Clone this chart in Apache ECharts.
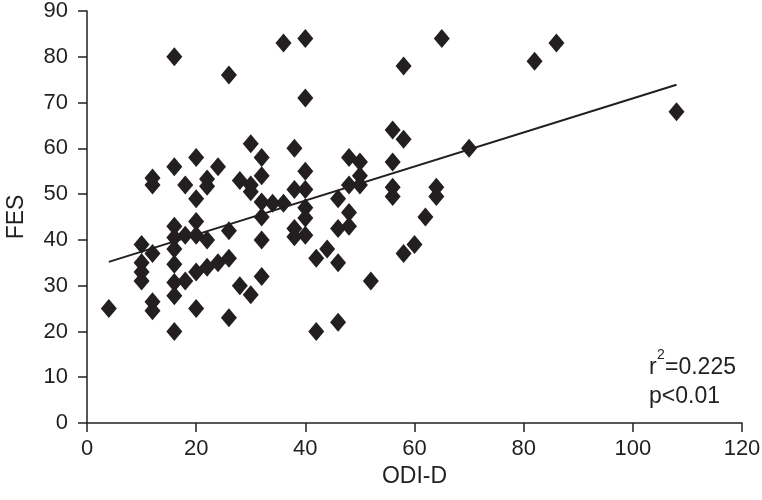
<!DOCTYPE html>
<html>
<head>
<meta charset="utf-8">
<script src="https://cdn.jsdelivr.net/npm/echarts@6/dist/echarts.min.js"></script>
<style>
  html, body { margin: 0; padding: 0; background: #fff; }
  #chart { width: 762px; height: 500px; }
</style>
</head>
<body>
<div id="chart"></div>
<script>
// --- data ---
const odiD = [
    4,
    10, 10, 10, 10,
    12, 12, 12, 12, 12,
    16, 16, 16, 16, 16, 16, 16, 16, 16,
    18, 18, 18,
    20, 20, 20, 20, 20, 20,
    22, 22, 22, 22,
    24, 24,
    26, 26, 26, 26,
    28, 28,
    30, 30, 30, 30,
    32, 32, 32, 32, 32, 32,
    34,
    36, 36,
    38, 38, 38, 38,
    40, 40, 40, 40, 40, 40, 40,
    42, 42,
    44,
    46, 46, 46, 46,
    48, 48, 48, 48,
    50, 50, 50,
    52,
    56, 56, 56, 56,
    58, 58, 58,
    60,
    62,
    64, 64,
    65,
    70,
    82,
    86,
    108
];
const fes = [
    25,
    39, 35, 33, 31,
    53.5, 52, 37, 26.5, 24.5,
    80, 56, 43, 40.5, 38, 34.7, 30.7, 27.8, 20,
    52, 41, 31,
    58, 49, 44, 41, 33, 25,
    53.3, 51.7, 40, 34,
    56, 35,
    76, 42, 36, 23,
    53, 30,
    61, 52, 50.5, 28,
    58, 54, 48.3, 45, 40, 32,
    48,
    83, 48,
    60, 51, 42.5, 40.7,
    84, 71, 55, 51, 47, 44.8, 41,
    36, 20,
    38,
    49, 42.5, 35, 22,
    58, 52, 46, 43,
    57, 54, 52,
    31,
    64, 57, 51.5, 49.5,
    78, 62, 37,
    39,
    45,
    51.5, 49.5,
    84,
    60,
    79,
    83,
    68
];
// fitted line ends
const fitX = [4, 108];
const fitY = [35.2, 73.9];

const xTicks = [0, 20, 40, 60, 80, 100, 120];
const yTicks = [0, 10, 20, 30, 40, 50, 60, 70, 80, 90];
const statLines = ['=0.225', 'p<0.01'];

const ink = '#231f20';
const font = '"Liberation Sans", Arial, sans-serif';

const points = odiD.map((x, i) => [x, fes[i]]);
const fitLine = fitX.map((x, i) => [x, fitY[i]]);

const chart = echarts.init(document.getElementById('chart'));

chart.setOption({
    animation: false,
    backgroundColor: '#fff',
    grid: { left: 87, right: 20, top: 11, bottom: 77, containLabel: false, outerBoundsMode: 'none' },
    xAxis: {
        type: 'value',
        min: xTicks[0],
        max: xTicks[xTicks.length - 1],
        interval: 20,
        name: 'ODI-D',
        nameLocation: 'middle',
        nameGap: 36,
        nameTextStyle: { color: ink, fontSize: 23, fontFamily: font },
        axisLine: { onZero: false, lineStyle: { color: ink, width: 1.5 } },
        axisTick: { inside: false, length: 9, lineStyle: { color: ink, width: 1.5 } },
        axisLabel: { color: ink, fontSize: 22, fontFamily: font, margin: 15 },
        splitLine: { show: false }
    },
    yAxis: {
        type: 'value',
        min: yTicks[0],
        max: yTicks[yTicks.length - 1],
        interval: 10,
        name: 'FES',
        nameLocation: 'middle',
        nameGap: 59,
        nameRotate: 90,
        nameTextStyle: { color: ink, fontSize: 23, fontFamily: font },
        axisLine: { show: true, onZero: false, lineStyle: { color: ink, width: 1.5 } },
        axisTick: { show: true, inside: false, length: 9, lineStyle: { color: ink, width: 1.5 } },
        axisLabel: { color: ink, fontSize: 22, fontFamily: font, margin: 19 },
        splitLine: { show: false }
    },
    series: [
        {
            type: 'scatter',
            data: points,
            symbol: 'diamond',
            symbolSize: [16, 19],
            itemStyle: { color: ink, opacity: 1 }
        },
        {
            type: 'line',
            data: fitLine,
            showSymbol: false,
            symbol: 'none',
            z: 3,
            lineStyle: { color: ink, width: 2 }
        }
    ],
    graphic: [
        {
            type: 'text', left: 649, top: 356,
            style: { text: 'r', fill: ink, font: '23px ' + font }
        },
        {
            type: 'text', left: 657, top: 348,
            style: { text: '2', fill: ink, font: '14px ' + font }
        },
        {
            type: 'text', left: 665, top: 356,
            style: { text: statLines[0], fill: ink, font: '23px ' + font }
        },
        {
            type: 'text', left: 649, top: 385,
            style: { text: statLines[1], fill: ink, font: '23px ' + font }
        }
    ]
});
</script>
</body>
</html>
